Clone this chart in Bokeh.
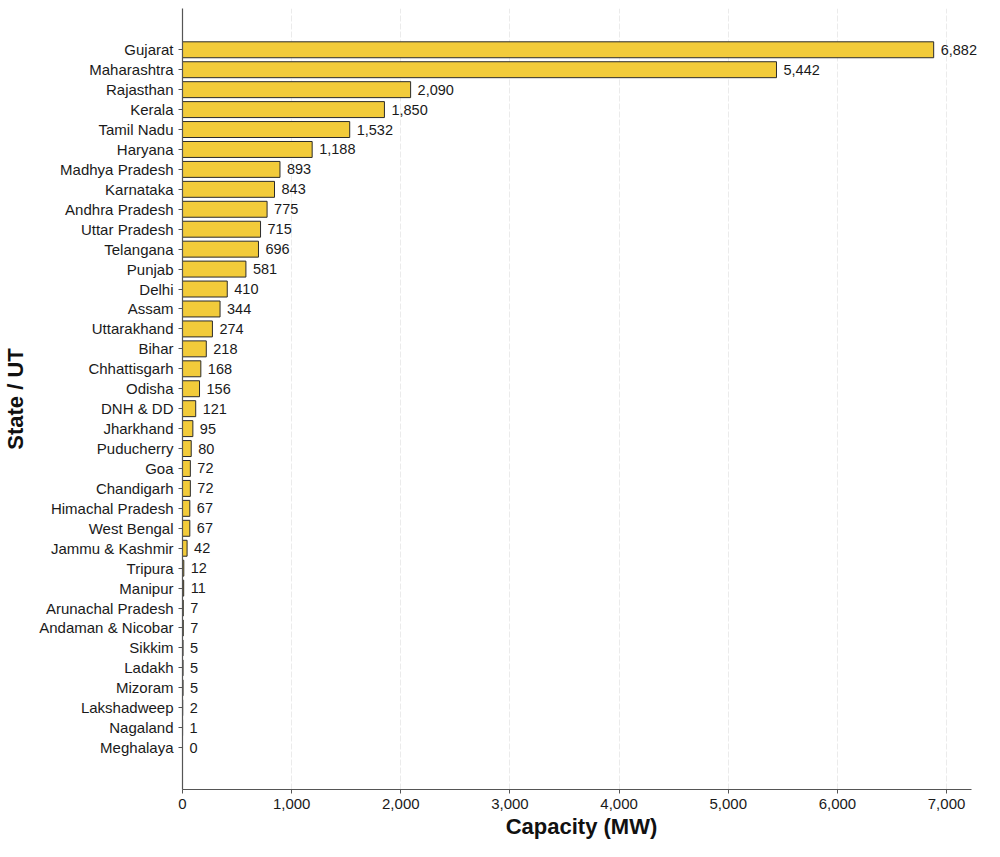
from bokeh.plotting import figure
from bokeh.models import ColumnDataSource, Range1d, FixedTicker, NumeralTickFormatter, LabelSet
from bokeh.embed import file_html
from bokeh.resources import INLINE
from bokeh.core.properties import value

states = ["Gujarat", "Maharashtra", "Rajasthan", "Kerala", "Tamil Nadu", "Haryana",
          "Madhya Pradesh", "Karnataka", "Andhra Pradesh", "Uttar Pradesh", "Telangana",
          "Punjab", "Delhi", "Assam", "Uttarakhand", "Bihar", "Chhattisgarh", "Odisha",
          "DNH & DD", "Jharkhand", "Puducherry", "Goa", "Chandigarh", "Himachal Pradesh",
          "West Bengal", "Jammu & Kashmir", "Tripura", "Manipur", "Arunachal Pradesh",
          "Andaman & Nicobar", "Sikkim", "Ladakh", "Mizoram", "Lakshadweep", "Nagaland",
          "Meghalaya"]
capacity = [6882, 5442, 2090, 1850, 1532, 1188, 893, 843, 775, 715, 696, 581, 410, 344,
            274, 218, 168, 156, 121, 95, 80, 72, 72, 67, 67, 42, 12, 11, 7, 7, 5, 5, 5,
            2, 1, 0]
x_ticks = [0, 1000, 2000, 3000, 4000, 5000, 6000, 7000]

n = len(states)
ypos = [n - 1 - i for i in range(n)]
labels = [f"{v:,}" for v in capacity]

src = ColumnDataSource(dict(y=ypos, v=capacity, lab=labels, st=states))

FONT = "Liberation Sans"
AXIS_END = 7226

p = figure(width=984, height=841, output_backend="svg", toolbar_location=None,
           x_range=Range1d(0, 7311), y_range=Range1d(-2.1, n - 1 + 2.07),
           min_border_left=10, min_border_right=4, min_border_top=8, min_border_bottom=10)
p.outline_line_color = None

p.hbar(y="y", right="v", left=0, height=0.8, source=src,
       fill_color="#F2CB3A", line_color="#2b2b2b", line_width=1)

lbl = LabelSet(x="v", y="y", text="lab", source=src, x_offset=7,
               text_font=value(FONT), text_font_size="14.5px", text_color="#1a1a1a",
               text_baseline="middle", text_align="left")
p.add_layout(lbl)

p.yaxis.ticker = FixedTicker(ticks=ypos)
p.yaxis.major_label_overrides = {yy: s for yy, s in zip(ypos, states)}
p.xaxis.ticker = FixedTicker(ticks=x_ticks)
p.xaxis.formatter = NumeralTickFormatter(format="0,0")
p.xaxis.bounds = (0, AXIS_END)

for ax in (p.xaxis, p.yaxis):
    ax.major_label_text_font = FONT
    ax.major_label_text_font_size = "15px"
    ax.major_label_text_color = "#1a1a1a"
    ax.axis_line_color = "#555555"
    ax.axis_line_width = 1.2
    ax.major_tick_line_color = "#555555"
    ax.major_tick_out = 4
    ax.major_tick_in = 0
    ax.minor_tick_line_color = None
    ax.axis_label_text_font = FONT
    ax.axis_label_text_font_size = "22px"
    ax.axis_label_text_font_style = "bold"
    ax.axis_label_text_color = "#111111"

p.xaxis.axis_label = "Capacity (MW)"
p.yaxis.axis_label = "State / UT"
p.xaxis.axis_label_standoff = 2
p.yaxis.axis_label_standoff = 8
p.xaxis.major_label_standoff = 5

p.ygrid.grid_line_color = None
p.xgrid.grid_line_color = "#ebebeb"
p.xgrid.grid_line_dash = "6 2"
p.xgrid.grid_line_width = 1

open("out.html", "w").write(file_html(p, INLINE))
